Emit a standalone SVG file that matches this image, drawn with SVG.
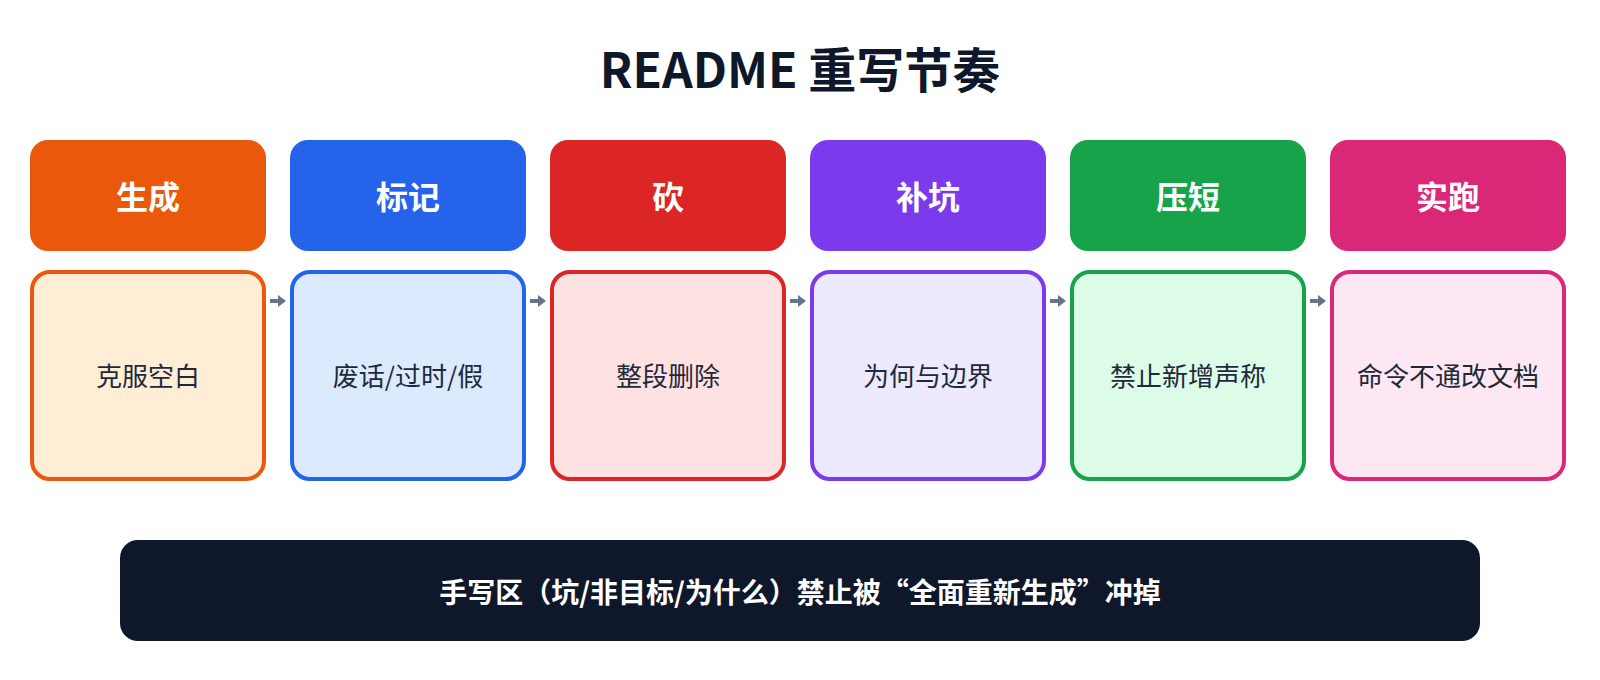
<svg xmlns="http://www.w3.org/2000/svg" width="1600" height="680" viewBox="0 0 1600 680">
  <style>
    .title { font-family: "Noto Sans CJK SC", "Noto Sans", sans-serif; font-size: 48px; font-weight: 700; fill: #0f172a; }
    .head { font-family: "Noto Sans CJK SC", sans-serif; font-size: 32px; font-weight: 700; fill: #ffffff; }
    .body { font-family: "Noto Sans CJK SC", sans-serif; font-size: 26px; font-weight: 400; fill: #1e293b; }
    .foot { font-family: "Noto Sans CJK SC", sans-serif; font-size: 28px; font-weight: 700; fill: #ffffff; }
    .arrow { stroke: #64748b; stroke-width: 4; fill: none; }
    .bodybox { stroke-width: 4; }
  </style>
  <defs>
    <marker id="ah" markerUnits="userSpaceOnUse" markerWidth="10" markerHeight="14" refX="1" refY="6" orient="auto">
      <path d="M0,0 L8,6 L0,12 Z" fill="#64748b"/>
    </marker>
  </defs>
  <rect width="1600" height="680" fill="#ffffff"/>
  <text class="title" x="800" y="88" text-anchor="middle">README 重写节奏</text>

  <g id="step1">
    <rect x="30" y="140" width="236" height="111" rx="18" fill="#ea580c"/>
    <text class="head" x="148" y="209" text-anchor="middle">生成</text>
    <rect class="bodybox" x="32" y="272" width="232" height="207" rx="18" fill="#ffedd5" stroke="#ea580c"/>
    <text class="body" x="148" y="386" text-anchor="middle">克服空白</text>
  </g>
  <g id="step2">
    <rect x="290" y="140" width="236" height="111" rx="18" fill="#2563eb"/>
    <text class="head" x="408" y="209" text-anchor="middle">标记</text>
    <rect class="bodybox" x="292" y="272" width="232" height="207" rx="18" fill="#dbeafe" stroke="#2563eb"/>
    <text class="body" x="408" y="386" text-anchor="middle">废话/过时/假</text>
  </g>
  <g id="step3">
    <rect x="550" y="140" width="236" height="111" rx="18" fill="#dc2626"/>
    <text class="head" x="668" y="209" text-anchor="middle">砍</text>
    <rect class="bodybox" x="552" y="272" width="232" height="207" rx="18" fill="#fee2e2" stroke="#dc2626"/>
    <text class="body" x="668" y="386" text-anchor="middle">整段删除</text>
  </g>
  <g id="step4">
    <rect x="810" y="140" width="236" height="111" rx="18" fill="#7c3aed"/>
    <text class="head" x="928" y="209" text-anchor="middle">补坑</text>
    <rect class="bodybox" x="812" y="272" width="232" height="207" rx="18" fill="#ede9fe" stroke="#7c3aed"/>
    <text class="body" x="928" y="386" text-anchor="middle">为何与边界</text>
  </g>
  <g id="step5">
    <rect x="1070" y="140" width="236" height="111" rx="18" fill="#16a34a"/>
    <text class="head" x="1188" y="209" text-anchor="middle">压短</text>
    <rect class="bodybox" x="1072" y="272" width="232" height="207" rx="18" fill="#dcfce7" stroke="#16a34a"/>
    <text class="body" x="1188" y="386" text-anchor="middle">禁止新增声称</text>
  </g>
  <g id="step6">
    <rect x="1330" y="140" width="236" height="111" rx="18" fill="#db2777"/>
    <text class="head" x="1448" y="209" text-anchor="middle">实跑</text>
    <rect class="bodybox" x="1332" y="272" width="232" height="207" rx="18" fill="#fce7f3" stroke="#db2777"/>
    <text class="body" x="1448" y="386" text-anchor="middle">命令不通改文档</text>
  </g>

  <g id="connectors">
    <line class="arrow" x1="270" y1="301" x2="279" y2="301" marker-end="url(#ah)"/>
    <line class="arrow" x1="530" y1="301" x2="539" y2="301" marker-end="url(#ah)"/>
    <line class="arrow" x1="790" y1="301" x2="799" y2="301" marker-end="url(#ah)"/>
    <line class="arrow" x1="1050" y1="301" x2="1059" y2="301" marker-end="url(#ah)"/>
    <line class="arrow" x1="1310" y1="301" x2="1319" y2="301" marker-end="url(#ah)"/>
  </g>

  <g id="footer">
    <rect x="120" y="540" width="1360" height="101" rx="18" fill="#0f172a"/>
    <text class="foot" x="800" y="603" text-anchor="middle">手写区（坑/非目标/为什么）禁止被“全面重新生成”冲掉</text>
  </g>
</svg>
